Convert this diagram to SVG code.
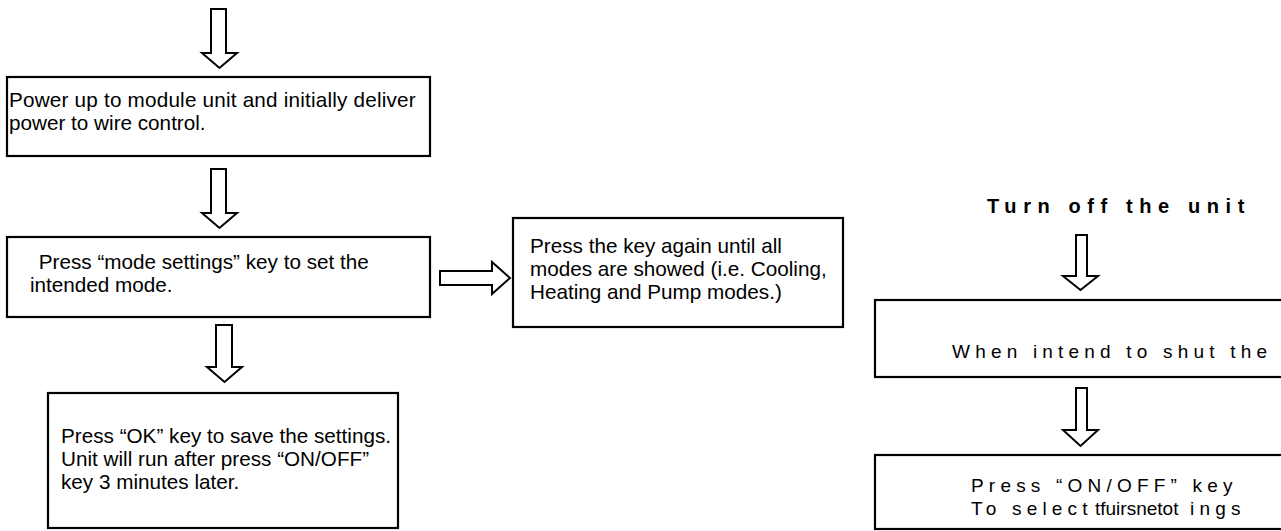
<svg xmlns="http://www.w3.org/2000/svg" width="1281" height="531" viewBox="0 0 1281 531">
<style>
.box{fill:#fff;stroke:#000;stroke-width:2.2}
.arr{fill:#fff;stroke:#000;stroke-width:2;stroke-linejoin:miter}
.t{font-family:"Liberation Sans",Arial,sans-serif;font-size:20.7px;fill:#000}
.ts{font-family:"Liberation Sans",Arial,sans-serif;font-size:19px;fill:#000;letter-spacing:5.2px}
.tb{font-family:"Liberation Sans",Arial,sans-serif;font-size:20px;font-weight:bold;fill:#000;letter-spacing:6.6px}
</style>
<rect width="1281" height="531" fill="#fff"/>
<g id="connectors">
<polygon class="arr" points="211,9 226,9 226,53 237,53 219.5,68 202,53 211,53"/>
<polygon class="arr" points="211,169 226,169 226,213 237,213 219.5,228 202,213 211,213"/>
<polygon class="arr" points="216,325 232,325 232,367 242,367 224.5,382 207,367 216,367"/>
<polygon class="arr" points="440,271 492,271 492,262 510,278 492,294 492,285 440,285"/>
<polygon class="arr" points="1076,235 1087,235 1087,276 1098,276 1080.5,290 1063,276 1076,276"/>
<polygon class="arr" points="1076,388 1087,388 1087,430 1098,430 1080.5,446 1063,430 1076,430"/>
</g>
<g id="n1">
<rect class="box" x="7" y="77" width="423" height="79"/>
<text class="t" x="9" y="107" style="letter-spacing:0.2px">Power up to module unit and initially deliver</text>
<text class="t" x="9" y="130">power to wire control.</text>
</g>
<g id="n2">
<rect class="box" x="7" y="237" width="423" height="80"/>
<text class="t" x="33" y="269" xml:space="preserve"> Press “mode settings” key to set the</text>
<text class="t" x="30" y="292">intended mode.</text>
</g>
<g id="n3">
<rect class="box" x="513" y="218" width="330" height="109"/>
<text class="t" x="530" y="253">Press the key again until all</text>
<text class="t" x="530" y="276">modes are showed (i.e. Cooling,</text>
<text class="t" x="530" y="299">Heating and Pump modes.)</text>
</g>
<g id="n4">
<rect class="box" x="48" y="393" width="350" height="135"/>
<text class="t" x="61" y="443">Press “OK” key to save the settings.</text>
<text class="t" x="61" y="466">Unit will run after press “ON/OFF”</text>
<text class="t" x="61" y="489">key 3 minutes later.</text>
</g>
<g id="title">
<text class="tb" x="987" y="213">Turn off the unit</text>
</g>
<g id="n5">
<rect class="box" x="875" y="300" width="430" height="77"/>
<text class="ts" x="952" y="358">When intend to shut the</text>
</g>
<g id="n6">
<rect class="box" x="875" y="455" width="430" height="74"/>
<text class="ts" x="971" y="492">Press “ON/OFF” key</text>
<text class="ts" x="971" y="515">To select <tspan x="1095" style="letter-spacing:0px">tfuirsnetot</tspan><tspan x="1190">ings</tspan></text>
</g>
</svg>
